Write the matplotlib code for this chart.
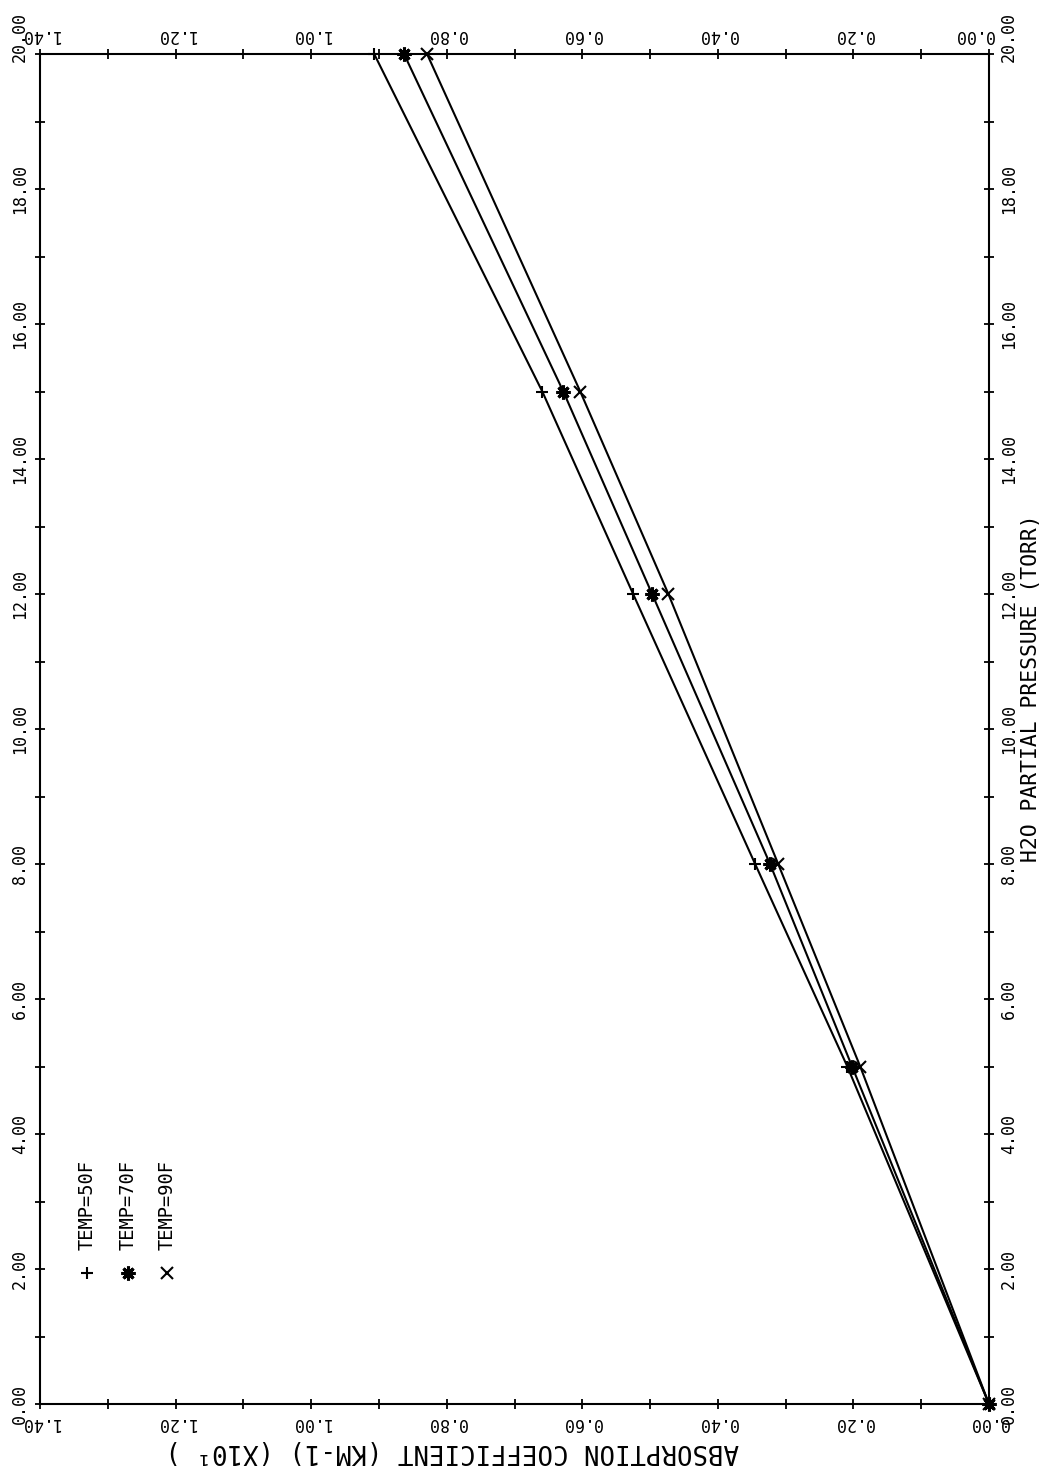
import matplotlib
matplotlib.use("Agg")
import matplotlib.pyplot as plt
import matplotlib.transforms as mtransforms
from matplotlib.ticker import MultipleLocator, FormatStrFormatter

pressure = [0, 5, 8, 12, 15, 20]
temp_50f = [0.0, 0.209, 0.345, 0.525, 0.659, 0.907]
temp_70f = [0.0, 0.202, 0.323, 0.497, 0.628, 0.863]
temp_90f = [0.0, 0.190, 0.311, 0.473, 0.603, 0.829]
series_names = ["TEMP=50F", "TEMP=70F", "TEMP=90F"]
series_markers = ["+", (8, 2, 0), "x"]

plt.rcParams['font.family'] = ['DejaVu Sans Mono', 'DejaVu Sans']

fig = plt.figure(figsize=(10.54, 14.68), dpi=100)
ax = fig.add_axes([40 / 1054, 1 - 1404 / 1468, 949 / 1054, 1350 / 1468])

# chart is drawn turned by 90 deg: pressure runs up the page,
# absorption runs right-to-left
for vals, mk in zip([temp_50f, temp_70f, temp_90f], series_markers):
    ms = 10 if mk == (8, 2, 0) else 9
    mew = 2.2 if mk == (8, 2, 0) else 1.5
    ax.plot(vals, pressure, color='black', lw=1.5, marker=mk,
            markersize=ms, mew=mew, clip_on=False)

ax.set_xlim(1.4, 0)
ax.set_ylim(0, 20)

ax.xaxis.set_major_locator(MultipleLocator(0.2))
ax.xaxis.set_minor_locator(MultipleLocator(0.1))
ax.yaxis.set_major_locator(MultipleLocator(2))
ax.yaxis.set_minor_locator(MultipleLocator(1))
ax.xaxis.set_major_formatter(FormatStrFormatter('%.2f'))
ax.yaxis.set_major_formatter(FormatStrFormatter('%.2f'))

ax.tick_params(axis='both', which='both', direction='inout', length=7,
               width=1.3, color='black')
ax.tick_params(axis='x', which='both', top=True, bottom=True,
               labeltop=True, labelbottom=True, labelrotation=180,
               labelsize=12, pad=3.5)
ax.tick_params(axis='y', which='both', left=True, right=True,
               labelleft=True, labelright=True, labelrotation=90,
               labelsize=12, pad=4.5)
for lab in ax.get_yticklabels():
    lab.set_va('center')

for sp in ax.spines.values():
    sp.set_linewidth(1.5)

ax.set_xlabel("ABSORPTION COEFFICIENT (KM-1) (X10\u00b9 )", rotation=180,
              fontsize=18.5, va='center', ha='center')
ax.xaxis.set_label_coords(0.434, -0.035)
ax.yaxis.set_label_position('right')
ax.set_ylabel("H2O PARTIAL PRESSURE (TORR)", rotation=90, fontsize=15.4,
              va='center', ha='center')
ax.yaxis.set_label_coords(1.044, 0.530)

# legend, written sideways like the rest of the chart
leg_x = [0.0495, 0.093, 0.134]
for x, name, mk in zip(leg_x, series_names, series_markers):
    ms = 10 if mk == (8, 2, 0) else 9
    mew = 2.2 if mk == (8, 2, 0) else 1.5
    ax.plot([x], [0.097], transform=ax.transAxes, color='black',
            marker=mk, markersize=ms, mew=mew, linestyle='none')
    ax.text(x, 0.114, name, transform=ax.transAxes, rotation=90,
            ha='center', va='bottom', fontsize=13.5)

# end labels are nudged off the corners, as on the original plotter output
fig.canvas.draw()
up = mtransforms.ScaledTranslation(0, 0.17, fig.dpi_scale_trans)
left = mtransforms.ScaledTranslation(-0.15, 0, fig.dpi_scale_trans)
for t in ax.yaxis.get_major_ticks():
    if abs(t.get_loc() - 20) < 1e-6:
        for lab in (t.label1, t.label2):
            lab.set_transform(lab.get_transform() + up)
for t in ax.xaxis.get_major_ticks():
    if abs(t.get_loc()) < 1e-6:
        t.label2.set_transform(t.label2.get_transform() + left)

fig.savefig("out.png", dpi=100, facecolor='white')
